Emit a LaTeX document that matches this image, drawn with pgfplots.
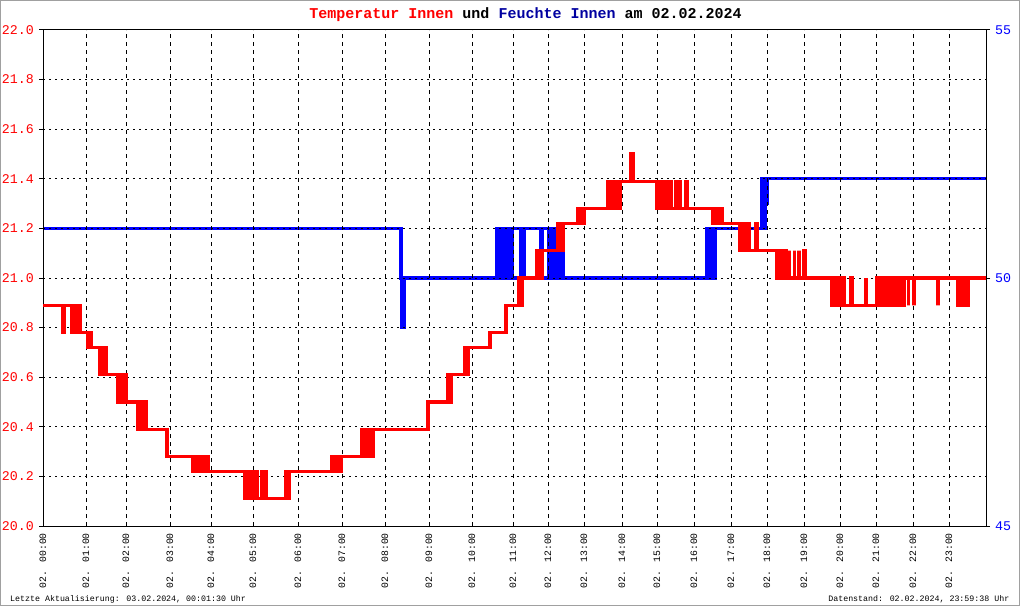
\documentclass[border=0pt]{standalone}
\usepackage{fontspec}
\setmainfont{Liberation Mono}
\usepackage{pgfplots}
\pgfplotsset{compat=1.18}
\definecolor{tred}{RGB}{255,0,0}
\definecolor{hblue}{RGB}{0,0,255}
\definecolor{titleblue}{RGB}{0,0,160}
\definecolor{framegray}{RGB}{160,160,160}
\begin{document}
\begin{tikzpicture}[x=1pt,y=1pt]
\useasboundingbox (0,0) rectangle (1020,606);
\fill[white] (0,0) rectangle (1020,606);
\draw[framegray, line width=1pt] (0.5,0.5) rectangle (1019.5,605.5);
% humidity axis (right)
\begin{axis}[
  at={(43pt,80pt)}, anchor=south west, scale only axis,
  width=943pt, height=496pt,
  xmin=43, xmax=986, ymin=45, ymax=55,
  axis x line=none, axis y line*=right,
  axis line style={black, line width=1pt, -},
  ytick={45,50,55}, yticklabels={45,50,55},
  tick align=outside, major tick length=4pt,
  tick style={black, line width=1pt},
  yticklabel style={font=\fontsize{13.3}{14}\selectfont, text=hblue, inner sep=0pt},
  yticklabel shift=5pt,
]
\addplot[hblue, line width=3.2pt, line join=miter] coordinates {
(43,51)(401,51)(401,50)(402,50)(402,49)(404.5,49)(404.5,50)(707,50)(707,51)(708.5,51)(708.5,50)(710,50)(710,51)(711.5,51)(711.5,50)(713,50)(713,51)(714.5,51)(714.5,50)(715,50)(715,51)(762,51)(762,52)(763.5,52)(763.5,51)(765,51)(765,52)(766.5,52)(766.5,51.5)(767.5,51.5)(767.5,52)(986,52)
};
\addplot[hblue, line width=3.2pt, line join=miter] coordinates {
(497,50)(497,51)(498.5,51)(498.5,50)(500,50)(500,51)(501.5,51)(501.5,50)(503,50)(503,51)(504.5,51)(504.5,50)(506,50)(506,51)(507.5,51)(507.5,50)(509,50)(509,51)(510.5,51)(510.5,50)(512,50)(512,51)(521,51)(521,50)(524,50)(524,51)(541,51)(541,50)(542.5,50)(542.5,51)(549,51)(549,50)(550.5,50)(550.5,51)(552,51)(552,50)(553.5,50)(553.5,51)(555,51)(555,50)(556.5,50)(556.5,51)(558,51)(558,50)(559.5,50)(559.5,51)(561,51)(561,50)(562.5,50)(562.5,51)(563,51)(563,50)
};
\end{axis}
% temperature axis (left)
\begin{axis}[
  at={(43pt,80pt)}, anchor=south west, scale only axis,
  width=943pt, height=496pt,
  xmin=43, xmax=986, ymin=20, ymax=22,
  axis line style={black, line width=1pt},
  xtick={43,86,126,170,211,253,298,342,385,429,472,513,548,584,622,657,694,731,767,804,840,876,913,949},
  xticklabels={02. 00:00,02. 01:00,02. 02:00,02. 03:00,02. 04:00,02. 05:00,02. 06:00,02. 07:00,02. 08:00,02. 09:00,02. 10:00,02. 11:00,02. 12:00,02. 13:00,02. 14:00,02. 15:00,02. 16:00,02. 17:00,02. 18:00,02. 19:00,02. 20:00,02. 21:00,02. 22:00,02. 23:00},
  ytick={20,20.2,20.4,20.6,20.8,21,21.2,21.4,21.6,21.8,22},
  yticklabels={20.0,20.2,20.4,20.6,20.8,21.0,21.2,21.4,21.6,21.8,22.0},
  ytick pos=left,
  tick align=outside, major tick length=4pt,
  tick style={black, line width=1pt},
  xtick style={draw=none},
  xmajorgrids, ymajorgrids,
  x grid style={black, line width=1pt, dash pattern=on 4pt off 4pt},
  y grid style={black, line width=1pt, dash pattern=on 2pt off 4pt},
  yticklabel style={font=\fontsize{13.3}{14}\selectfont, text=tred, inner sep=0pt},
  yticklabel shift=5pt,
  xticklabel style={font=\fontsize{9.8}{10}\selectfont, rotate=90, anchor=east, inner sep=0pt},
  xticklabel shift=3pt,
]
\addplot[tred, line width=3.2pt, line join=miter] coordinates {
(43,20.89)(63,20.89)(63,20.78)(64.5,20.78)(64.5,20.89)
(72,20.89)(72,20.78)(76,20.78)(76,20.89)(77.5,20.89)(77.5,20.78)(79,20.78)(79,20.89)(80,20.89)(80,20.78)
(88,20.78)(88,20.72)(89.5,20.72)(89.5,20.78)(91,20.78)(91,20.72)
(100,20.72)(100,20.61)(101.5,20.61)(101.5,20.72)(103,20.72)(103,20.61)(104.5,20.61)(104.5,20.72)(106,20.72)(106,20.61)
(118,20.61)(118,20.50)(119.5,20.50)(119.5,20.61)(121,20.61)(121,20.50)(122.5,20.50)(122.5,20.61)(124,20.61)(124,20.50)(125.5,20.50)(125.5,20.61)(126.5,20.61)(126.5,20.50)
(138,20.50)(138,20.39)(139.5,20.39)(139.5,20.50)(141,20.50)(141,20.39)(142.5,20.39)(142.5,20.50)(144,20.50)(144,20.39)(145.5,20.39)(145.5,20.50)(146.5,20.50)(146.5,20.39)
(167,20.39)(167,20.28)
(193,20.28)(193,20.22)(194.5,20.22)(194.5,20.28)(197,20.28)(197,20.22)(198.5,20.22)(198.5,20.28)(200,20.28)(200,20.22)(201.5,20.22)(201.5,20.28)(203,20.28)(203,20.22)(204.5,20.22)(204.5,20.28)(206,20.28)(206,20.22)(207,20.22)(207,20.28)(208,20.28)(208,20.22)
(245,20.22)(245,20.11)(246.5,20.11)(246.5,20.22)(249,20.22)(249,20.11)(250.5,20.11)(250.5,20.22)(252,20.22)(252,20.11)(253.5,20.11)(253.5,20.22)(255,20.22)(255,20.11)(256.5,20.11)(256.5,20.22)(257.5,20.22)(257.5,20.11)
(262,20.11)(262,20.22)(263.5,20.22)(263.5,20.11)(265,20.11)(265,20.22)(266.5,20.22)(266.5,20.11)
(286,20.11)(286,20.22)(287.5,20.22)(287.5,20.11)(289,20.11)(289,20.22)
(332,20.22)(332,20.28)(333.5,20.28)(333.5,20.22)(335,20.22)(335,20.28)(336.5,20.28)(336.5,20.22)(338,20.22)(338,20.28)(339.5,20.28)(339.5,20.22)(341,20.22)(341,20.28)
(362,20.28)(362,20.39)(363.5,20.39)(363.5,20.28)(365,20.28)(365,20.39)(366.5,20.39)(366.5,20.28)(368,20.28)(368,20.39)(369.5,20.39)(369.5,20.28)(371,20.28)(371,20.39)(372.5,20.39)(372.5,20.28)(373.5,20.28)(373.5,20.39)
(428,20.39)(428,20.50)
(448,20.50)(448,20.61)(449.5,20.61)(449.5,20.50)(451,20.50)(451,20.61)
(465,20.61)(465,20.72)(466.5,20.72)(466.5,20.61)(468,20.61)(468,20.72)
(490,20.72)(490,20.78)
(506,20.78)(506,20.89)
(519,20.89)(519,21.00)(520.5,21.00)(520.5,20.89)(522,20.89)(522,21.00)
(537,21.00)(537,21.11)(538.5,21.11)(538.5,21.00)(540,21.00)(540,21.11)(541.5,21.11)(541.5,21.00)(542.5,21.00)(542.5,21.11)
(558,21.11)(558,21.22)(559.5,21.22)(559.5,21.11)(561,21.11)(561,21.22)(562,21.22)(562,21.11)(563,21.11)(563,21.22)
(578,21.22)(578,21.28)(579.5,21.28)(579.5,21.22)(581,21.22)(581,21.28)(582.5,21.28)(582.5,21.22)(584,21.22)(584,21.28)
(608,21.28)(608,21.39)(609.5,21.39)(609.5,21.28)(611,21.28)(611,21.39)(612.5,21.39)(612.5,21.28)(614,21.28)(614,21.39)(615.5,21.39)(615.5,21.28)(617,21.28)(617,21.39)(618.5,21.39)(618.5,21.28)(620,21.28)(620,21.39)
(631,21.39)(631,21.50)(633,21.50)(633,21.39)
(657,21.39)(657,21.28)(658.5,21.28)(658.5,21.39)(660,21.39)(660,21.28)(661.5,21.28)(661.5,21.39)(663,21.39)(663,21.28)(664.5,21.28)(664.5,21.39)(666,21.39)(666,21.28)(667.5,21.28)(667.5,21.39)(669,21.39)(669,21.28)(670.5,21.28)(670.5,21.39)(671.5,21.39)(671.5,21.28)
(676,21.28)(676,21.39)(677.5,21.39)(677.5,21.28)(679,21.28)(679,21.39)(680,21.39)(680,21.28)
(686,21.28)(686,21.39)(687.5,21.39)(687.5,21.28)
(713,21.28)(713,21.22)(714.5,21.22)(714.5,21.28)(716,21.28)(716,21.22)(717.5,21.22)(717.5,21.28)(719,21.28)(719,21.22)(720.5,21.22)(720.5,21.28)(722,21.28)(722,21.22)
(740,21.22)(740,21.11)(741.5,21.11)(741.5,21.22)(743,21.22)(743,21.11)(744.5,21.11)(744.5,21.22)(746,21.22)(746,21.11)(747.5,21.11)(747.5,21.22)(749,21.22)(749,21.11)
(756,21.11)(756,21.22)(757.5,21.22)(757.5,21.11)
(777,21.11)(777,21.00)(778.5,21.00)(778.5,21.11)(780,21.11)(780,21.00)(781.5,21.00)(781.5,21.11)(783,21.11)(783,21.00)(784.5,21.00)(784.5,21.11)(786,21.11)(786,21.00)
(789.5,21.00)(789.5,21.11)(789.5,21.00)(794.5,21.00)(794.5,21.11)(794.5,21.00)(799,21.00)(799,21.11)(799,21.00)(804,21.00)(804,21.11)(805,21.11)(805,21.00)
(832,21.00)(832,20.89)(833.5,20.89)(833.5,21.00)(835,21.00)(835,20.89)(836.5,20.89)(836.5,21.00)(838,21.00)(838,20.89)(839.5,20.89)(839.5,21.00)(841,21.00)(841,20.89)(842.5,20.89)(842.5,21.00)(844,21.00)(844,20.89)
(851,20.89)(851,21.00)(852.5,21.00)(852.5,20.89)
(866,20.89)(866,21.00)(866,20.89)
(877,20.89)(877,21.00)(878.5,21.00)(878.5,20.89)(880,20.89)(880,21.00)(881.5,21.00)(881.5,20.89)(883,20.89)(883,21.00)(884.5,21.00)(884.5,20.89)(886,20.89)(886,21.00)(887.5,21.00)(887.5,20.89)(889,20.89)(889,21.00)(890.5,21.00)(890.5,20.89)(892,20.89)(892,21.00)(893.5,21.00)(893.5,20.89)(895,20.89)(895,21.00)(896.5,21.00)(896.5,20.89)(898,20.89)(898,21.00)(900,21.00)(900,20.89)(901,20.89)(901,21.00)(903,21.00)(903,20.89)(904,20.89)(904,21.00)
(908.5,21.00)(908.5,20.89)(908.5,21.00)
(914,21.00)(914,20.89)(914,21.00)
(938,21.00)(938,20.89)(938,21.00)
(958,21.00)(958,20.89)(959.5,20.89)(959.5,21.00)(961,21.00)(961,20.89)(962.5,20.89)(962.5,21.00)(964,21.00)(964,20.89)(965.5,20.89)(965.5,21.00)(967,21.00)(967,20.89)(968,20.89)(968,21.00)
(986,21.00)
};
\end{axis}
\node[anchor=base, inner sep=0pt, font=\fontsize{15}{15}\selectfont\bfseries] at (525.5,587.7)
  {\textcolor{tred}{Temperatur Innen} und \textcolor{titleblue}{Feuchte Innen} am 02.02.2024};
\node[anchor=base west, inner sep=0pt, font=\fontsize{8.3}{9}\selectfont] at (10,4.3)
  {Letzte Aktualisierung: 03.02.2024, 00:01:30 Uhr};
\node[anchor=base east, inner sep=0pt, font=\fontsize{8.3}{9}\selectfont] at (1009.5,4.3)
  {Datenstand: 02.02.2024, 23:59:38 Uhr};
\end{tikzpicture}
\end{document}
